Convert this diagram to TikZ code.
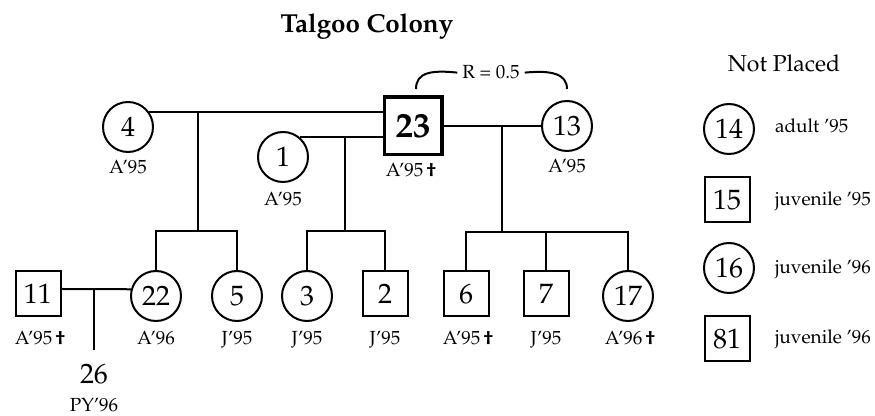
\documentclass[tikz,border=0pt]{standalone}
\usepackage[T1]{fontenc}
\usepackage{mathpazo}
\usepackage{tikz}

\newcommand{\numfont}{\fontsize{14}{14}\selectfont}
\newcommand{\bignumfont}{\fontsize{17.5}{17.5}\selectfont\bfseries}
\newcommand{\labfont}{\fontsize{9.5}{9.5}\selectfont}
\newcommand{\died}{\,\textbf{\dag}}

\tikzset{
  fem/.style={circle, draw, line width=1pt, minimum size=25pt, inner sep=0pt, font=\numfont},
  mal/.style={rectangle, draw, line width=1pt, minimum size=22.5pt, inner sep=0pt, font=\numfont},
  tag/.style={anchor=base, inner sep=0pt, font=\labfont},
}

\begin{document}
\begin{tikzpicture}[x=0.5pt, y=-0.5pt, line width=1pt]
\useasboundingbox (0,0) rectangle (875,416);
\node (title) [anchor=base, font=\fontsize{13}{13}\selectfont\bfseries] at (367,33) {Talgoo Colony};

\node (n4) [fem] at (128,127) {4};
\node (t4) [tag] at (128,174) {A'95};
\node (n1) [fem] at (283,157) {1};
\node (t1) [tag] at (283,206) {A'95};
\node (n23) [mal, line width=1.8pt, minimum size=28.7pt, font=\bignumfont] at (413,126) {23};
\node (t23) [tag] at (411,177) {A'95\died};
\node (n13) [fem] at (567,126) {13};
\node (t13) [tag] at (567,173) {A'95};

\coordinate (ra) at (416,89);
\coordinate (rb) at (567,89);
\node (rel) [tag, inner sep=2pt] at (491,79) {R = 0.5};
\draw (ra) .. controls (416,72) and (432,70) .. (rel.west);
\draw (rel.east) .. controls (552,70) and (567,74) .. (rb);

\node (n11) [mal] at (38,294) {11};
\node (t11) [tag] at (40,345) {A'95\died};
\node (n22) [fem] at (156,296) {22};
\node (t22) [tag] at (156,345) {A'96};
\node (n5) [fem] at (237,296) {5};
\node (t5) [tag] at (237,345) {J'95};
\node (n3) [fem] at (307,296) {3};
\node (t3) [tag] at (307,345) {J'95};
\node (n2) [mal] at (385,294) {2};
\node (t2) [tag] at (385,345) {J'95};
\node (n6) [mal] at (466,294) {6};
\node (t6) [tag] at (468,345) {A'95\died};
\node (n7) [mal] at (546,294) {7};
\node (t7) [tag] at (546,345) {J'95};
\node (n17) [fem] at (628,296) {17};
\node (t17) [tag] at (630,345) {A'96\died};

\node (n26) [anchor=base, font=\numfont] at (94,384) {26};
\node (t26) [tag] at (94,412) {PY'96};

\coordinate (c1) at (198,112);
\coordinate (b1) at (198,231);
\coordinate (c2) at (345,137);
\coordinate (b2) at (345,231);
\coordinate (c3) at (502,126);
\coordinate (b3) at (502,232);
\coordinate (c4) at (94,289);
\coordinate (b4) at (94,350);

\draw (n4.35) -- (n4.35 -| n23.west);
\draw (n1.50) -- (n1.50 -| n23.west);
\draw (n23) -- (n13);
\draw (n11.east |- c4) -- (n22.165);

\draw (c1) -- (b1);
\draw (n22) -- (n22 |- b1) -- (n5 |- b1) -- (n5);

\draw (c2) -- (b2);
\draw (n3) -- (n3 |- b2) -- (n2 |- b2) -- (n2);

\draw (c3) -- (b3);
\draw (n6) -- (n6 |- b3) -- (n17 |- b3) -- (n17);
\draw (n7) -- (n7 |- b3);

\draw (c4) -- (b4);

\node (np) [anchor=base, font=\fontsize{11.5}{11.5}\selectfont] at (784,72) {Not Placed};
\node (n14) [fem] at (729,129) {14};
\node (t14) [tag, anchor=base west] at (774,133) {adult '95};
\node (n15) [mal] at (727,200) {15};
\node (t15) [tag, anchor=base west] at (774,206) {juvenile '95};
\node (n16) [fem] at (729,268) {16};
\node (t16) [tag, anchor=base west] at (774,274) {juvenile '96};
\node (n81) [mal] at (727,339) {81};
\node (t81) [tag, anchor=base west] at (774,344) {juvenile '96};
\end{tikzpicture}
\end{document}
